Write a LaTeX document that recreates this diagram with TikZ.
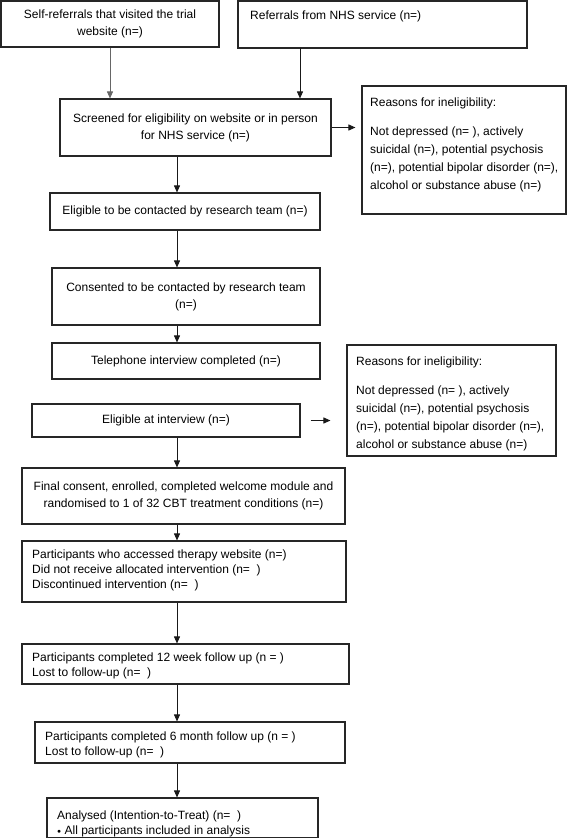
\documentclass[tikz,border=0pt]{standalone}
\usepackage{fontspec}
\setmainfont{Liberation Sans}
\usetikzlibrary{arrows.meta}
\begin{document}
\begin{tikzpicture}[x=1pt,y=-1pt,
  box/.style={draw=black!85, line width=1.1pt, inner sep=0pt, font=\fontsize{12}{17}\selectfont, align=center},
  listtxt/.style={inner sep=0pt, font=\fontsize{12}{15}\selectfont, align=left, anchor=north west},
  reasontxt/.style={inner sep=0pt, font=\fontsize{12}{18}\selectfont, align=left, anchor=north west},
  arr/.style={-{Triangle[width=6pt,length=7pt]}, line width=0.9pt, draw=black!90},
]
\useasboundingbox (0,0) rectangle (568,838);
\fill[white] (0,0) rectangle (568,838);

% top boxes
\node[box, minimum width=218, minimum height=46] (b1) at (110,24) {Self-referrals that visited the trial\\website (n=)};
\node[box, minimum width=289, minimum height=47] (b2) at (382.5,24.5) {};
\node[listtxt, anchor=base west] (t2) at (250,19.5) {Referrals from NHS service (n=)};

% screened
\node[box, minimum width=271, minimum height=57] (scr) at (195.5,127.5) {Screened for eligibility on website or in person\\for NHS service (n=)};

% reasons 1
\node[box, minimum width=204, minimum height=128] (r1) at (464,150) {};
\node[reasontxt] (r1t) at (370,98) {Reasons for ineligibility:\\[11pt]Not depressed (n= ), actively\\suicidal (n=), potential psychosis\\(n=), potential bipolar disorder (n=),\\alcohol or substance abuse (n=)};

% main column
\node[box, minimum width=270, minimum height=37] (elig) at (185,211.5) {Eligible to be contacted by research team (n=)};
\node[box, minimum width=268, minimum height=57] (cons) at (186,296.5) {Consented to be contacted by research team\\(n=)};
\node[box, minimum width=268, minimum height=36] (tel) at (186,361) {Telephone interview completed (n=)};

% reasons 2
\node[box, minimum width=209, minimum height=111] (r2) at (451.5,400.5) {};
\node[reasontxt] (r2t) at (356,357) {Reasons for ineligibility:\\[11pt]Not depressed (n= ), actively\\suicidal (n=), potential psychosis\\(n=), potential bipolar disorder (n=),\\alcohol or substance abuse (n=)};

\node[box, minimum width=268, minimum height=33] (eint) at (166,420.5) {Eligible at interview (n=)};

\node[box, minimum width=323, minimum height=56] (fin) at (183.5,496) {Final consent, enrolled, completed welcome module and\\randomised to 1 of 32 CBT treatment conditions (n=)};

\node[box, minimum width=324, minimum height=61] (acc) at (184,571.5) {};
\node[listtxt] (acct) at (32,550) {Participants who accessed therapy website (n=)\\Did not receive allocated intervention (n=~~)\\Discontinued intervention (n=~~)};

\node[box, minimum width=327, minimum height=40] (w12) at (185.5,664) {};
\node[listtxt] (w12t) at (32,653) {Participants completed 12 week follow up (n = )\\Lost to follow-up (n=~~)};

\node[box, minimum width=310, minimum height=41] (m6) at (190,742.5) {};
\node[listtxt] (m6t) at (45,732) {Participants completed 6 month follow up (n = )\\Lost to follow-up (n=~~)};

\node[box, minimum width=271, minimum height=40] (ana) at (182.5,818) {};
\node[listtxt] (anat) at (57,811) {Analysed (Intention-to-Treat) (n=~~)\\{\fontsize{7}{7}\selectfont\raisebox{1.5pt}{$\bullet$}}~All participants included in analysis};

% connectors
\coordinate (b2a) at (300,48);
\coordinate (col) at (177,0);
\draw[arr, draw=black!60] (b1.south) -- (b1.south |- scr.north);
\draw[arr] (b2a) -- (b2a |- scr.north);
\draw[arr, shorten >=6pt] (scr.east) -- (r1.west |- scr.east);
\draw[arr] (col |- scr.south) -- (col |- elig.north);
\draw[arr] (col |- elig.south) -- (col |- cons.north);
\draw[arr] (col |- cons.south) -- (col |- tel.north);
\draw[arr, shorten <=10pt, shorten >=16pt] (eint.east) -- (r2.west |- eint.east);
\draw[arr] (col |- eint.south) -- (col |- fin.north);
\draw[arr] (col |- fin.south) -- (col |- acc.north);
\draw[arr] (col |- acc.south) -- (col |- w12.north);
\draw[arr] (col |- w12.south) -- (col |- m6.north);
\draw[arr] (col |- m6.south) -- (col |- ana.north);
\end{tikzpicture}
\end{document}
